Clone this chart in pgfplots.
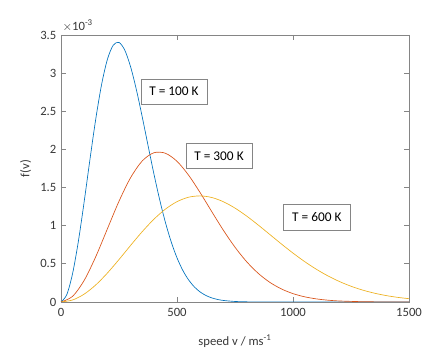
\documentclass[border=0pt]{standalone}
\usepackage{pgfplots}
\pgfplotsset{compat=1.18}
\usepackage{fontspec}
\setmainfont{Carlito}
\definecolor{mblue}{rgb}{0,0.447,0.741}
\definecolor{mred}{rgb}{0.850,0.325,0.098}
\definecolor{myel}{rgb}{0.929,0.694,0.125}
\definecolor{axgray}{rgb}{0.52,0.52,0.52}
\definecolor{txgray}{rgb}{0.22,0.22,0.22}
\begin{document}
\begin{tikzpicture}[x=1pt,y=1pt]
\begin{axis}[
  scale only axis,
  width=261pt, height=200.25pt,
  xmin=0, xmax=1500, ymin=0, ymax=3.5,
  xtick={0,500,1000,1500},
  ytick={0,0.5,1,1.5,2,2.5,3,3.5},
  yticklabels={0,0.5,1,1.5,2,2.5,3,3.5},
  xticklabels={0,500,1000,1500},
  /pgf/number format/assume math mode=true,
  tick align=inside,
  major tick length=3.5pt,
  axis line style={axgray, line width=0.6pt},
  every tick/.style={axgray, line width=0.6pt},
  tick label style={font=\fontsize{9.5}{11}\selectfont, text=txgray},
  xticklabel style={yshift=-1.5pt},
  label style={font=\fontsize{9.5}{11}\selectfont, text=txgray},
  xlabel={speed v / ms\textsuperscript{-1}},
  ylabel={f(v)},
  xlabel style={yshift=-6.5pt},
  ylabel style={yshift=0pt},
  clip=true,
]
\addplot[mblue, line width=0.5pt, smooth] coordinates {
(0,0) (25,0.0964) (50,0.3738) (75,0.7979) (100,1.3177) (125,1.8727) (150,2.4021) (175,2.8516)
(200,3.1803) (225,3.3657) (250,3.4022) (275,3.3006) (300,3.0832) (325,2.7817) (350,2.4284)
(375,2.0542) (400,1.6862) (425,1.3454) (450,1.0439) (475,0.7877) (500,0.5790) (525,0.4146)
(550,0.2896) (575,0.1970) (600,0.1309) (625,0.0847) (650,0.0535) (675,0.0331) (700,0.0199)
(750,0.0068) (800,0.0021) (850,0.0006) (900,0.0001) (1000,0) (1500,0)
};
\addplot[mred, line width=0.5pt, smooth] coordinates {
(0,0) (50,0.0740) (100,0.2837) (150,0.5951) (200,0.9590) (250,1.3206) (300,1.6297) (350,1.8484)
(400,1.9559) (450,1.9501) (500,1.8442) (550,1.6620) (600,1.4323) (650,1.1836) (700,0.9397)
(750,0.7181) (800,0.5287) (850,0.3758) (900,0.2578) (950,0.1709) (1000,0.1096) (1050,0.0680)
(1100,0.0408) (1150,0.0237) (1200,0.0133) (1300,0.0038) (1400,0.0010) (1500,0.0002)
};
\addplot[myel, line width=0.5pt, smooth] coordinates {
(0,0) (50,0.0263) (100,0.1032) (150,0.2241) (200,0.3794) (250,0.5565) (300,0.7418) (350,0.9217)
(400,1.0836) (450,1.2172) (500,1.3152) (550,1.3733) (600,1.3908) (650,1.3696) (700,1.3143)
(750,1.2309) (800,1.1268) (850,1.0091) (900,0.8850) (950,0.7606) (1000,0.6410) (1050,0.5300)
(1100,0.4303) (1150,0.3428) (1200,0.2684) (1250,0.2065) (1300,0.1562) (1350,0.1161)
(1400,0.0849) (1450,0.0611) (1500,0.0432)
};
\node[draw=axgray, fill=white, line width=0.6pt, minimum width=49.5pt, minimum height=18.75pt, font=\fontsize{10}{12}\selectfont, text=black] at (axis cs:487,2.76) {T = 100 K};
\node[draw=axgray, fill=white, line width=0.6pt, minimum width=49.5pt, minimum height=18.75pt, font=\fontsize{10}{12}\selectfont, text=black] at (axis cs:681,1.914) {T = 300 K};
\node[draw=axgray, fill=white, line width=0.6pt, minimum width=50pt, minimum height=19.5pt, font=\fontsize{10}{12}\selectfont, text=black] at (axis cs:1103,1.115) {T = 600 K};
\end{axis}
\node[anchor=south west, font=\fontsize{9.5}{11}\selectfont, text=txgray, inner sep=0pt] at ([xshift=1pt,yshift=2pt]current axis.north west) {$\times$10\textsuperscript{-3}};
\useasboundingbox ([xshift=-45.75pt,yshift=-41.25pt]current axis.south west) rectangle ([xshift=25.5pt,yshift=26.25pt]current axis.north east);
\end{tikzpicture}
\end{document}
